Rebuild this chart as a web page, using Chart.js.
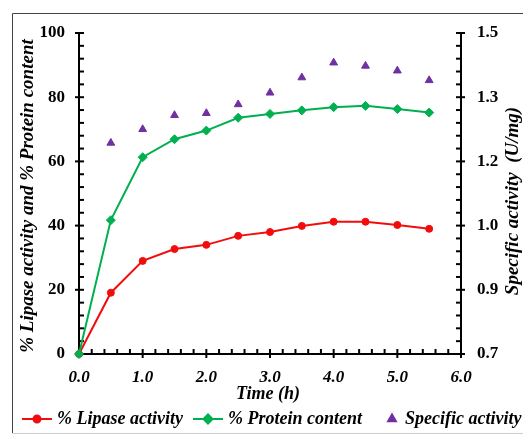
<!DOCTYPE html>
<html>
<head>
<meta charset="utf-8">
<script src="https://cdn.jsdelivr.net/npm/chart.js@4.4.3/dist/chart.umd.min.js"></script>
<style>
  html, body { margin: 0; padding: 0; background: #fff; }
  #wrap { width: 523px; height: 435px; }
</style>
</head>
<body>
<div id="wrap"><canvas id="chart" width="523" height="435"></canvas></div>
<script>
// ---- data ----
const timeH        = [0, 0.5, 1.0, 1.5, 2.0, 2.5, 3.0, 3.5, 4.0, 4.5, 5.0, 5.5];
const lipasePct    = [0, 19.1, 29.0, 32.7, 34.0, 36.8, 38.0, 39.9, 41.2, 41.2, 40.2, 39.0];
const proteinPct   = [0, 41.7, 61.3, 66.9, 69.6, 73.6, 74.8, 75.9, 76.9, 77.3, 76.3, 75.2];
const specTimeH    = [0.5, 1.0, 1.5, 2.0, 2.5, 3.0, 3.5, 4.0, 4.5, 5.0, 5.5];
const specActivity = [1.226, 1.26, 1.295, 1.30, 1.322, 1.351, 1.389, 1.426, 1.418, 1.406, 1.382];

const xTicks          = [0, 1, 2, 3, 4, 5, 6];
const xTickLabels     = ['0.0', '1.0', '2.0', '3.0', '4.0', '5.0', '6.0'];
const leftTicks       = [0, 20, 40, 60, 80, 100];
const rightTicks      = [0.7, 0.86, 1.02, 1.18, 1.34, 1.5];
const rightTickLabels = ['0.7', '0.9', '1.0', '1.2', '1.3', '1.5'];

const RED = '#f20d0d', GREEN = '#00b050', PURPLE = '#7030a0';
const SERIF = '"Liberation Serif", "Times New Roman", serif';

const toXY = (xs, ys) => xs.map((x, i) => ({ x, y: ys[i] }));

// ticks crossing the axis (major) and pointing inward (minor)
function axisTicks(ctx, scale, majors, minorsPerGap, side) {
  const pts = [];
  majors.forEach((v, i) => {
    pts.push({ v, major: true });
    if (i < majors.length - 1) {
      const step = (majors[i + 1] - v) / (minorsPerGap + 1);
      for (let k = 1; k <= minorsPerGap; k++) pts.push({ v: v + k * step, major: false });
    }
  });
  const ca = scale.chart.chartArea;
  pts.forEach(p => {
    const pos = scale.getPixelForValue(p.v);
    const inner = 5, outer = p.major ? 4 : 0;
    ctx.beginPath();
    if (side === 'bottom') {
      ctx.moveTo(pos, ca.bottom + outer); ctx.lineTo(pos, ca.bottom - inner);
    } else if (side === 'left') {
      ctx.moveTo(ca.left - outer, pos); ctx.lineTo(ca.left + inner, pos);
    } else {
      ctx.moveTo(ca.right + outer, pos); ctx.lineTo(ca.right - inner, pos);
    }
    ctx.stroke();
  });
}

const overlay = {
  id: 'overlay',
  beforeDatasetsDraw(chart) {
    const ctx = chart.ctx;
    ctx.save();
    ctx.strokeStyle = '#000';
    ctx.lineWidth = 2;
    axisTicks(ctx, chart.scales.x, xTicks, 4, 'bottom');
    axisTicks(ctx, chart.scales.y, leftTicks, 4, 'left');
    axisTicks(ctx, chart.scales.y1, rightTicks, 4, 'right');
    ctx.restore();
  },
  afterDraw(chart) {
    const ctx = chart.ctx;
    ctx.save();
    // frame
    ctx.strokeStyle = '#444';
    ctx.lineWidth = 1;
    ctx.beginPath();
    ctx.moveTo(12.5, 433); ctx.lineTo(12.5, 13.5); ctx.lineTo(523, 13.5);
    ctx.stroke();
    ctx.strokeStyle = '#ccc';
    ctx.beginPath(); ctx.moveTo(12.5, 433.5); ctx.lineTo(523, 433.5); ctx.stroke();

    ctx.fillStyle = '#000';
    ctx.textAlign = 'center';
    ctx.textBaseline = 'middle';
    // axis titles
    ctx.font = 'bold italic 18px ' + SERIF;
    ctx.fillText('Time (h)', 268, 394);
    ctx.font = 'bold italic 19px ' + SERIF;
    ctx.save();
    ctx.translate(28, 196);
    ctx.rotate(-Math.PI / 2);
    ctx.fillText('% Lipase activity and % Protein content', 0, 0);
    ctx.restore();
    ctx.save();
    ctx.translate(513, 201);
    ctx.rotate(-Math.PI / 2);
    ctx.fillText('Specific activity  (U/mg)', 0, 0);
    ctx.restore();

    // legend
    const ly = 419;
    ctx.font = 'bold italic 18px ' + SERIF;
    ctx.textAlign = 'left';
    const ds = chart.data.datasets;
    ctx.lineWidth = 2;
    ctx.strokeStyle = RED;
    ctx.beginPath(); ctx.moveTo(22, ly); ctx.lineTo(52, ly); ctx.stroke();
    ctx.fillStyle = RED;
    Chart.helpers.drawPoint(ctx, { pointStyle: 'circle', radius: 3.5, borderWidth: 1 }, 37, ly);
    ctx.strokeStyle = GREEN;
    ctx.beginPath(); ctx.moveTo(193, ly); ctx.lineTo(223, ly); ctx.stroke();
    ctx.fillStyle = GREEN;
    Chart.helpers.drawPoint(ctx, { pointStyle: 'rectRot', radius: 4.5, borderWidth: 1 }, 208, ly);
    ctx.strokeStyle = PURPLE; ctx.fillStyle = PURPLE;
    Chart.helpers.drawPoint(ctx, { pointStyle: 'triangle', radius: 4.5, borderWidth: 1 }, 392, ly);
    ctx.fillStyle = '#000';
    ctx.fillText(ds[0].label, 57, ly);
    ctx.fillText(ds[1].label, 228, ly);
    ctx.fillText(ds[2].label, 405, ly);
    ctx.restore();
  }
};

new Chart(document.getElementById('chart'), {
  type: 'line',
  data: {
    datasets: [
      {
        label: '% Lipase activity',
        data: toXY(timeH, lipasePct),
        borderColor: RED, backgroundColor: RED,
        borderWidth: 2, pointStyle: 'circle', pointRadius: 3.5, pointBorderWidth: 1,
        yAxisID: 'y', order: 2, clip: false
      },
      {
        label: '% Protein content',
        data: toXY(timeH, proteinPct),
        borderColor: GREEN, backgroundColor: GREEN,
        borderWidth: 2, pointStyle: 'rectRot', pointRadius: 4.5, pointBorderWidth: 1,
        yAxisID: 'y', order: 1, clip: false
      },
      {
        label: 'Specific activity',
        data: toXY(specTimeH, specActivity),
        borderColor: PURPLE, backgroundColor: PURPLE,
        showLine: false, pointStyle: 'triangle', pointRadius: 4.5, pointBorderWidth: 1,
        yAxisID: 'y1', order: 0, clip: false
      }
    ]
  },
  options: {
    responsive: false,
    animation: false,
    layout: { padding: { top: 33, left: 0, right: 0, bottom: 0 } },
    plugins: { legend: { display: false }, tooltip: { enabled: false } },
    scales: {
      x: {
        type: 'linear', min: 0, max: 6,
        afterBuildTicks: s => { s.ticks = xTicks.map(v => ({ value: v })); },
        afterFit: s => { s.height = 81; },
        grid: { display: false, drawTicks: false },
        border: { display: true, color: '#000', width: 2 },
        ticks: {
          padding: 13, color: '#000',
          font: { family: SERIF, size: 17, weight: 'bold', style: 'italic' },
          callback: (v, i) => xTickLabels[i]
        }
      },
      y: {
        position: 'left', min: 0, max: 100,
        afterBuildTicks: s => { s.ticks = leftTicks.map(v => ({ value: v })); },
        afterFit: s => { s.width = 79; },
        grid: { display: false, drawTicks: false },
        border: { display: true, color: '#000', width: 2 },
        ticks: {
          padding: 14, color: '#000',
          font: { family: SERIF, size: 17, weight: 'bold' }
        }
      },
      y1: {
        position: 'right', min: 0.7, max: 1.5,
        afterBuildTicks: s => { s.ticks = rightTicks.map(v => ({ value: v })); },
        afterFit: s => { s.width = 62; },
        grid: { display: false, drawTicks: false },
        border: { display: true, color: '#000', width: 2 },
        ticks: {
          padding: 16, color: '#000',
          font: { family: SERIF, size: 17, weight: 'bold' },
          callback: (v, i) => rightTickLabels[i]
        }
      }
    }
  },
  plugins: [overlay]
});
</script>
</body>
</html>
